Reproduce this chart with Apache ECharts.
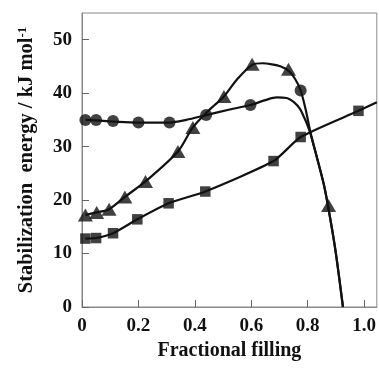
<!DOCTYPE html>
<html>
<head>
<meta charset="utf-8">
<script src="https://cdn.jsdelivr.net/npm/echarts@6/dist/echarts.min.js"></script>
<style>html,body{margin:0;padding:0;background:#fff}#c{width:379px;height:368px}</style>
</head>
<body>
<div id="c"></div>
<script>
// Marker data
var circleX = [0.012, 0.05, 0.11, 0.2, 0.31, 0.44, 0.597, 0.775];
var circleY = [35.0, 35.0, 34.8, 34.5, 34.5, 35.9, 37.8, 40.5];
var triX = [0.012, 0.052, 0.096, 0.152, 0.225, 0.34, 0.393, 0.503, 0.603, 0.732, 0.874];
var triY = [17.2, 17.7, 18.3, 20.6, 23.5, 29.1, 33.6, 39.4, 45.4, 44.5, 19.0];
var sqX = [0.012, 0.05, 0.11, 0.196, 0.307, 0.437, 0.679, 0.775, 0.98];
var sqY = [12.8, 12.9, 13.8, 16.4, 19.4, 21.6, 27.3, 31.8, 36.7];
// Fitted curve data
var circleCurveX = [0.012, 0.05, 0.11, 0.2, 0.31, 0.37, 0.44, 0.52, 0.597, 0.65, 0.69, 0.725, 0.754, 0.772, 0.788, 0.80, 0.812, 0.835, 0.859, 0.88, 0.90, 0.925];
var circleCurveY = [35.0, 34.9, 34.7, 34.5, 34.5, 35.0, 35.9, 36.9, 37.8, 38.7, 39.2, 39.1, 38.2, 37.1, 35.4, 33.9, 32.1, 27.5, 22.5, 16.5, 10.0, 0];
var triCurveX = [0.012, 0.052, 0.096, 0.152, 0.225, 0.34, 0.393, 0.45, 0.503, 0.55, 0.603, 0.64, 0.673, 0.705, 0.732, 0.755, 0.775, 0.793, 0.812, 0.835, 0.859, 0.88, 0.90, 0.925];
var triCurveY = [17.2, 17.7, 18.3, 20.6, 23.5, 29.1, 33.6, 36.8, 39.4, 42.6, 45.3, 45.6, 45.4, 45.0, 44.2, 42.7, 40.5, 36.9, 32.1, 27.5, 22.5, 16.5, 10.0, 0];
var sqCurveX = [0.012, 0.05, 0.11, 0.196, 0.307, 0.437, 0.679, 0.775, 0.98, 1.045];
var sqCurveY = [12.8, 12.9, 13.8, 16.4, 19.4, 21.6, 27.3, 31.8, 36.7, 38.3];
var xTicks = [0, 0.2, 0.4, 0.6, 0.8, 1.0];
var xTickLabels = ['0', '0.2', '0.4', '0.6', '0.8', '1.0'];
var yTicks = [0, 10, 20, 30, 40, 50];

function pairs(xs, ys) { return xs.map(function (x, i) { return [x, ys[i]]; }); }

var font = 'Liberation Serif';
var chart = echarts.init(document.getElementById('c'), null, {renderer: 'canvas'});
chart.setOption({
  animation: false,
  backgroundColor: '#fff',
  grid: {left: 82, top: 13, right: -2, bottom: 61, show: true, borderColor: '#888', borderWidth: 1},
  xAxis: {
    type: 'value', min: 0, max: 1.045, interval: 0.2,
    name: 'Fractional filling', nameLocation: 'middle', nameGap: 27,
    nameTextStyle: {fontFamily: font, fontWeight: 'bold', fontSize: 20, color: '#111'},
    axisLine: {show: true, lineStyle: {color: '#888', width: 1}},
    axisTick: {show: true, inside: true, length: 7, lineStyle: {color: '#666'}},
    splitLine: {show: false},
    axisLabel: {
      fontFamily: font, fontWeight: 'bold', fontSize: 19, color: '#111', margin: 10,
      showMaxLabel: false,
      formatter: function (v) {
        for (var i = 0; i < xTicks.length; i++) if (Math.abs(v - xTicks[i]) < 1e-6) return xTickLabels[i];
        return '';
      }
    }
  },
  yAxis: {
    type: 'value', min: 0, max: 55, interval: 10,
    name: 'Stabilization  energy / kJ mol{sup|-1}', nameLocation: 'middle', nameGap: 45,
    nameTextStyle: {fontFamily: font, fontWeight: 'bold', fontSize: 20.5, color: '#111',
      rich: {sup: {fontFamily: font, fontWeight: 'bold', fontSize: 13, color: '#111', verticalAlign: 'top', padding: [0, 0, 8, 0]}}},
    axisLine: {show: true, lineStyle: {color: '#888', width: 1}},
    axisTick: {show: true, inside: true, length: 7, lineStyle: {color: '#666'}},
    splitLine: {show: false},
    axisLabel: {
      fontFamily: font, fontWeight: 'bold', fontSize: 19, color: '#111', margin: 10,
      showMaxLabel: false,
      formatter: function (v) { return yTicks.indexOf(v) >= 0 ? String(v) : ''; }
    }
  },
  series: [
    {type: 'line', data: pairs(circleCurveX, circleCurveY), smooth: 0.3, showSymbol: false,
     lineStyle: {color: '#111', width: 2.2}, z: 2},
    {type: 'line', data: pairs(triCurveX, triCurveY), smooth: 0.3, showSymbol: false,
     lineStyle: {color: '#111', width: 2.2}, z: 2},
    {type: 'line', data: pairs(sqCurveX, sqCurveY), smooth: 0.2, showSymbol: false,
     lineStyle: {color: '#111', width: 2.2}, z: 2},
    {type: 'scatter', data: pairs(circleX, circleY), symbol: 'circle', symbolSize: 12,
     itemStyle: {color: '#111'}, z: 3},
    {type: 'scatter', data: pairs(triX, triY), symbol: 'triangle', symbolSize: [15, 13],
     itemStyle: {color: '#111'}, z: 3},
    {type: 'scatter', data: pairs(sqX, sqY), symbol: 'rect', symbolSize: 10.5,
     itemStyle: {color: '#111'}, z: 3}
  ]
});
</script>
</body>
</html>
